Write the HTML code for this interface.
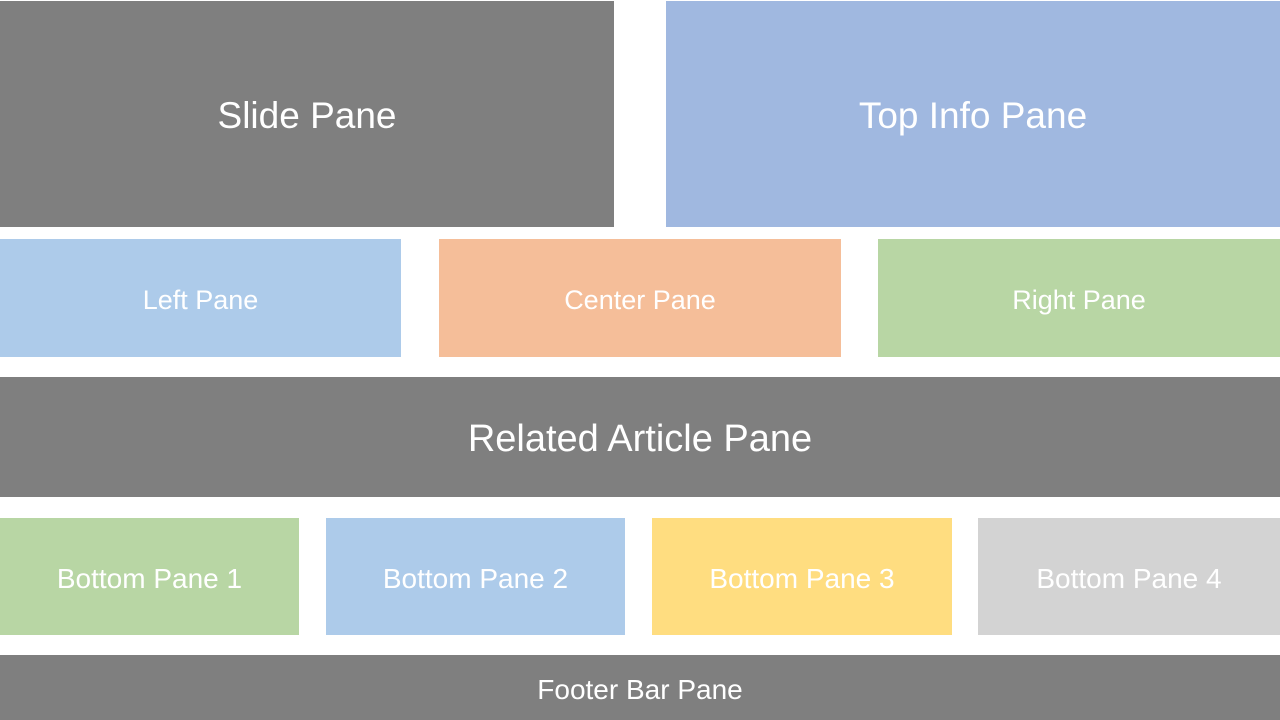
<!DOCTYPE html>
<html><head><meta charset="utf-8"><style>
body{margin:0;width:1280px;height:720px;background:#fff;position:relative;overflow:hidden;font-family:"Liberation Sans",sans-serif;}
.p{position:absolute;display:flex;align-items:center;justify-content:center;color:#fff;box-sizing:border-box;padding-top:4px;}
</style></head><body>
<div class="p" style="left:0;top:1px;width:614px;height:226px;background:#7f7f7f;font-size:37px;">Slide Pane</div>
<div class="p" style="left:666px;top:1px;width:614px;height:226px;background:#a0b8e0;font-size:37px;">Top Info Pane</div>
<div class="p" style="left:0;top:239px;width:401px;height:118px;background:#adcbea;font-size:27px;">Left Pane</div>
<div class="p" style="left:439px;top:239px;width:402px;height:118px;background:#f5be99;font-size:27px;">Center Pane</div>
<div class="p" style="left:878px;top:239px;width:402px;height:118px;background:#b8d6a4;font-size:27px;">Right Pane</div>
<div class="p" style="left:0;top:377px;width:1280px;height:120px;background:#7f7f7f;font-size:38px;">Related Article Pane</div>
<div class="p" style="left:0;top:518px;width:299px;height:117px;background:#b8d6a4;font-size:28px;">Bottom Pane 1</div>
<div class="p" style="left:326px;top:518px;width:299px;height:117px;background:#adcbea;font-size:28px;">Bottom Pane 2</div>
<div class="p" style="left:652px;top:518px;width:300px;height:117px;background:#ffdd80;font-size:28px;">Bottom Pane 3</div>
<div class="p" style="left:978px;top:518px;width:302px;height:117px;background:#d3d3d3;font-size:28px;">Bottom Pane 4</div>
<div class="p" style="left:0;top:655px;width:1280px;height:65px;background:#7f7f7f;font-size:28px;">Footer Bar Pane</div>
</body></html>
